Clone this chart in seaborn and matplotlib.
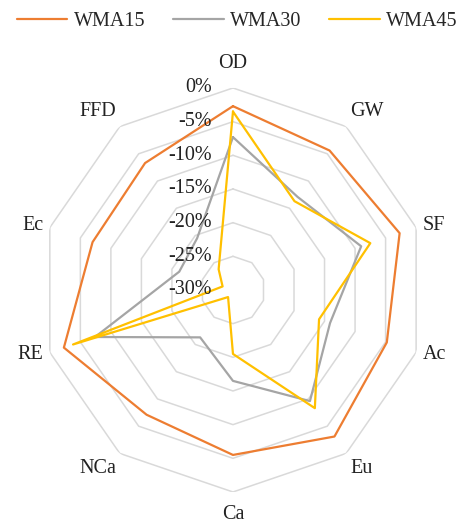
import numpy as np
import matplotlib
matplotlib.use('Agg')
import matplotlib.pyplot as plt
import seaborn as sns

categories = ['OD', 'GW', 'SF', 'Ac', 'Eu', 'Ca', 'NCa', 'RE', 'Ec', 'FFD']
wma15 = [-2.7, -4.4, -2.7, -4.8, -3.1, -5.5, -7.1, -2.3, -7.0, -6.7]
wma30 = [-7.3, -12.9, -9.0, -14.1, -9.6, -16.5, -21.3, -7.4, -21.2, -20.5]
wma45 = [-3.5, -13.7, -7.5, -15.9, -8.3, -20.5, -28.7, -3.8, -28.3, -26.2]
series_names = ['WMA15', 'WMA30', 'WMA45']
ring_values = [-25, -20, -15, -10, -5, 0]
tick_values = [0, -5, -10, -15, -20, -25, -30]

colors = ['#ED7D31', '#A5A5A5', '#FFC000']


def closed(vals):
    return list(vals) + [vals[0]]


def main() -> None:

    sns.set_style('white')
    plt.rcParams['font.family'] = ['Liberation Serif', 'DejaVu Serif']

    fig = plt.figure(figsize=(4.64, 5.23), dpi=100)
    ax = fig.add_axes([0.0871, 0.0593, 0.830, 0.7725], projection='polar')
    ax.set_aspect('auto')
    ax.set_theta_zero_location('N')
    ax.set_theta_direction(-1)

    n = len(categories)
    angles = np.linspace(0, 2 * np.pi, n, endpoint=False)
    ang_closed = np.append(angles, 2 * np.pi)

    # decagon grid rings
    for v in ring_values:
        ax.plot(ang_closed, [v] * (n + 1), color='#D9D9D9', lw=1.1, zorder=1)

    for name, vals, c in zip(series_names, [wma15, wma30, wma45], colors):
        sns.lineplot(x=ang_closed, y=closed(vals), ax=ax, sort=False,
                     errorbar=None, color=c, lw=1.6, label=name, zorder=3)

    ax.set_ylim(-30, 0)
    ax.grid(False)
    ax.set_xticks([])
    ax.set_yticks([])
    ax.spines['polar'].set_visible(False)
    ax.set_xlabel('')
    ax.set_ylabel('')

    # radial tick labels along OD axis
    for v in tick_values:
        ax.annotate(f'{v}%', xy=(0, v), xytext=(-15, 0), textcoords='offset points',
                    ha='right', va='center', fontsize=14.5, color='#222222')

    # category labels
    for a, lab in zip(angles, categories):
        deg = np.degrees(a) % 360
        if np.isclose(deg, 0):
            ha, va, f = 'center', 'bottom', 1.075
        elif np.isclose(deg, 180):
            ha, va, f = 'center', 'top', 1.065
        else:
            ha = 'left' if deg < 180 else 'right'
            if deg < 60 or deg > 300:
                va = 'bottom'
            elif 120 < deg < 240:
                va = 'top'
            else:
                va = 'center'
            f = 1.035
        r = -30 + 30 * f
        ax.text(a, r, lab, ha=ha, va=va, fontsize=14.5, color='#222222', clip_on=False)

    handles, labels = ax.get_legend_handles_labels()
    ax.get_legend().remove()
    fig.legend(handles, labels, loc='center', bbox_to_anchor=(0.511, 1 - 21 / 523),
               ncol=3, frameon=False, fontsize=14.5, handlelength=2.5,
               handletextpad=0.3, columnspacing=1.4)

    fig.savefig('out.png', dpi=100)


if __name__ == '__main__': main()
